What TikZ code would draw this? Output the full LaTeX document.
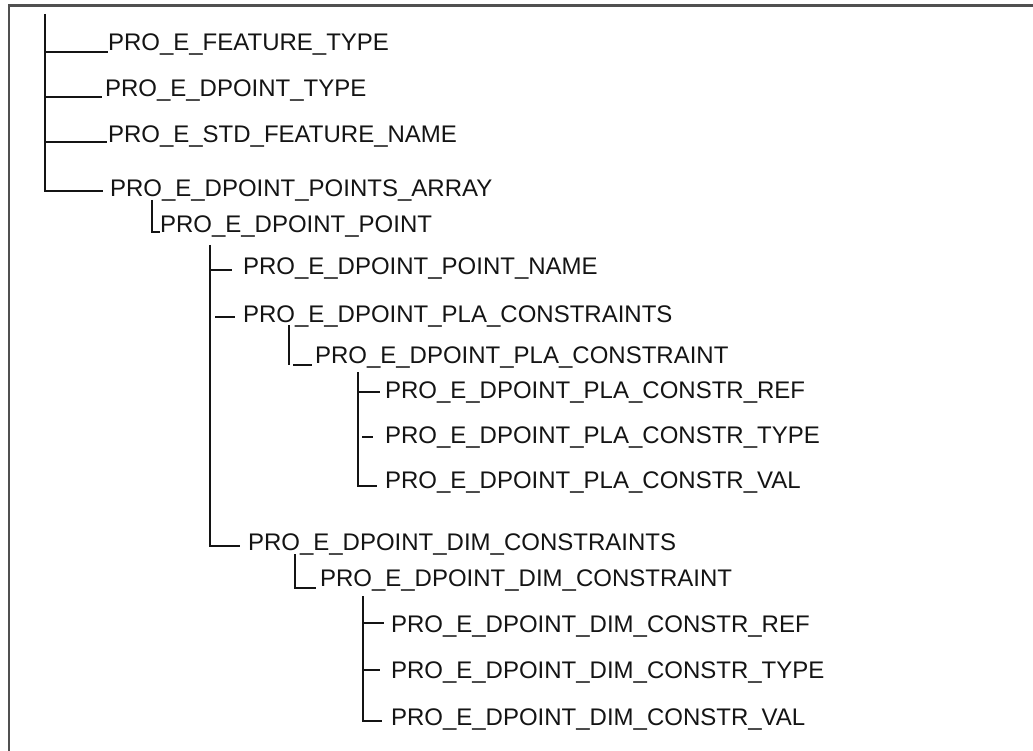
\documentclass[tikz,border=0pt]{standalone}
\usepackage{fontspec}
\setmainfont{Liberation Sans}
\usetikzlibrary{calc}
\definecolor{framegray}{RGB}{80,80,80}
\definecolor{ink}{RGB}{20,20,20}
\tikzset{
  lbl/.style={anchor=base west, inner sep=0pt, outer sep=0pt, text=ink,
    font=\fontsize{24}{28}\selectfont},
  tree/.style={draw=ink, line width=1.6pt, line cap=butt},
  framebox/.style={draw=framegray, line width=2.5pt}
}
\begin{document}
\begin{tikzpicture}[x=1pt, y=-1pt]
\useasboundingbox (0,0) rectangle (1033,751);
\draw[framebox] (9,770) -- (9,5.5) -- (1045,5.5);

% labels
\node[lbl] (t1)  at (108,51)  {PRO\_E\_FEATURE\_TYPE};
\node[lbl] (t2)  at (105,97)  {PRO\_E\_DPOINT\_TYPE};
\node[lbl] (t3)  at (108,143) {PRO\_E\_STD\_FEATURE\_NAME};
\node[lbl] (t4)  at (110,197) {PRO\_E\_DPOINT\_POINTS\_ARRAY};
\node[lbl] (t5)  at (160,233) {PRO\_E\_DPOINT\_POINT};
\node[lbl] (t6)  at (243,275) {PRO\_E\_DPOINT\_POINT\_NAME};
\node[lbl] (t7)  at (243,322) {PRO\_E\_DPOINT\_PLA\_CONSTRAINTS};
\node[lbl] (t8)  at (315,363) {PRO\_E\_DPOINT\_PLA\_CONSTRAINT};
\node[lbl] (t9)  at (385,398) {PRO\_E\_DPOINT\_PLA\_CONSTR\_REF};
\node[lbl] (t10) at (385,443) {PRO\_E\_DPOINT\_PLA\_CONSTR\_TYPE};
\node[lbl] (t11) at (385,488) {PRO\_E\_DPOINT\_PLA\_CONSTR\_VAL};
\node[lbl] (t12) at (248,550) {PRO\_E\_DPOINT\_DIM\_CONSTRAINTS};
\node[lbl] (t13) at (320,586) {PRO\_E\_DPOINT\_DIM\_CONSTRAINT};
\node[lbl] (t14) at (391,632) {PRO\_E\_DPOINT\_DIM\_CONSTR\_REF};
\node[lbl] (t15) at (391,678) {PRO\_E\_DPOINT\_DIM\_CONSTR\_TYPE};
\node[lbl] (t16) at (391,725) {PRO\_E\_DPOINT\_DIM\_CONSTR\_VAL};

% tops of the vertical lines
\coordinate (v0) at (45,14);
\coordinate (v1) at (152,200);
\coordinate (v2) at (210,245);
\coordinate (v3) at (289,325);
\coordinate (v4) at (358,372);
\coordinate (v5) at (295,554);
\coordinate (v6) at (363,596);

% ends of the branches next to the labels
\coordinate (e1)  at ($(t1.base west)+(0,1)$);
\coordinate (e2)  at ($(t2.base west)+(-3,0)$);
\coordinate (e3)  at ($(t3.base west)+(-1,-1)$);
\coordinate (e4)  at ($(t4.base west)+(-7,-6)$);
\coordinate (e5)  at ($(t5.base west)+(0,-1)$);
\coordinate (e6)  at ($(t6.base west)+(-11,-5)$);
\coordinate (e7a) at ($(t7.base west)+(-28,-5)$);
\coordinate (e7)  at ($(t7.base west)+(-8,-5)$);
\coordinate (e8a) at ($(t8.base west)+(-22,2)$);
\coordinate (e8)  at ($(t8.base west)+(-3,2)$);
\coordinate (e9)  at ($(t9.base west)+(-5,-6)$);
\coordinate (e10a) at ($(t10.base west)+(-23,-6)$);
\coordinate (e10) at ($(t10.base west)+(-12,-6)$);
\coordinate (e11) at ($(t11.base west)+(-8,-2)$);
\coordinate (e12) at ($(t12.base west)+(-8,-4)$);
\coordinate (e13) at ($(t13.base west)+(-4,2)$);
\coordinate (e14) at ($(t14.base west)+(-7,-9)$);
\coordinate (e15) at ($(t15.base west)+(-11,-8)$);
\coordinate (e16) at ($(t16.base west)+(-9,-4)$);

% level 1
\draw[tree] (v0) |- (e4);
\draw[tree] (v0 |- e1) -- (e1);
\draw[tree] (v0 |- e2) -- (e2);
\draw[tree] (v0 |- e3) -- (e3);
% level 2
\draw[tree] (v1) |- (e5);
% level 3
\draw[tree] (v2) |- (e12);
\draw[tree] (v2 |- e6) -- (e6);
\draw[tree] (e7a) -- (e7);
% PLA constraint
\draw[tree] (v3) -- (v3 |- e8);
\draw[tree] (e8a) -- (e8);
\draw[tree] (v4) |- (e11);
\draw[tree] (v4 |- e9) -- (e9);
\draw[tree] (e10a) -- (e10);
% DIM constraint
\draw[tree] (v5) |- (e13);
\draw[tree] (v6) |- (e16);
\draw[tree] (v6 |- e14) -- (e14);
\draw[tree] (v6 |- e15) -- (e15);
\end{tikzpicture}
\end{document}
